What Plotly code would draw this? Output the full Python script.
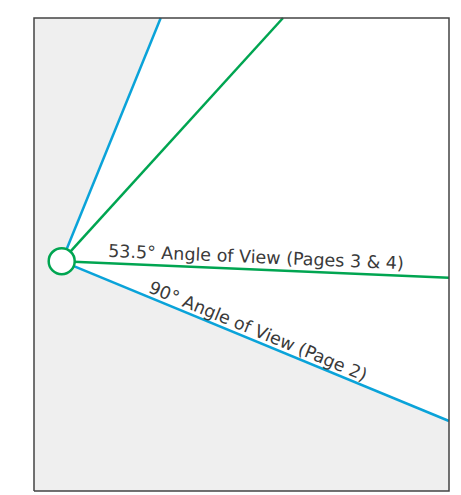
import math
import plotly.graph_objects as go

# Room (drawing units) and camera
room_w = 415
room_h = 473
camera = (27.7, 229.8)

# Ray angles in degrees (measured counter-clockwise from the +x axis)
wide_rays = [67.85, -22.42]      # 90° angle of view (Page 2)
narrow_rays = [47.7, -2.44]      # 53.5° angle of view (Pages 3 & 4)

labels = ["53.5° Angle of View (Pages 3 & 4)", "90° Angle of View (Page 2)"]

BLUE = "#0aa3d9"
GREEN = "#00a551"
GRAY = "#efefef"
TEXT = "#3a3a3a"


def ray_end(angle):
    cx, cy = camera
    dx, dy = math.cos(math.radians(angle)), math.sin(math.radians(angle))
    ts = []
    if dx > 0:
        ts.append((room_w - cx) / dx)
    if dx < 0:
        ts.append(-cx / dx)
    if dy > 0:
        ts.append((room_h - cy) / dy)
    if dy < 0:
        ts.append(-cy / dy)
    t = min(ts)
    return cx + t * dx, cy + t * dy


fig = go.Figure()

# gray region outside the wide field of view
top_end = ray_end(wide_rays[0])
bot_end = ray_end(wide_rays[1])
poly_x = [0, top_end[0], camera[0], bot_end[0], room_w, 0, 0]
poly_y = [room_h, top_end[1], camera[1], bot_end[1], 0, 0, room_h]
fig.add_trace(go.Scatter(x=poly_x, y=poly_y, mode="lines", fill="toself",
                         fillcolor=GRAY, line=dict(width=0), hoverinfo="skip"))

# rays
for rays, color in [(wide_rays, BLUE), (narrow_rays, GREEN)]:
    for a in rays:
        ex, ey = ray_end(a)
        fig.add_trace(go.Scatter(x=[camera[0], ex], y=[camera[1], ey], mode="lines",
                                 line=dict(color=color, width=2.5), hoverinfo="skip"))

# room border
fig.add_trace(go.Scatter(x=[0, room_w, room_w, 0, 0], y=[0, 0, room_h, room_h, 0],
                         mode="lines", line=dict(color="#444444", width=1.5),
                         hoverinfo="skip"))

# camera marker
fig.add_trace(go.Scatter(x=[camera[0]], y=[camera[1]], mode="markers",
                         marker=dict(size=26, color="white",
                                     line=dict(color=GREEN, width=2.5)),
                         hoverinfo="skip"))

# labels
fig.add_annotation(x=222, y=234, text=labels[0], showarrow=False,
                   textangle=-(narrow_rays[1]),
                   font=dict(family="DejaVu Sans", size=17.5, color=TEXT))
fig.add_annotation(x=224, y=160, text=labels[1], showarrow=False,
                   textangle=-(wide_rays[1]),
                   font=dict(family="DejaVu Sans", size=17.5, color=TEXT))

# page body has an 8px margin: size and range compensate for it
fig.update_layout(
    width=453, height=487,
    margin=dict(l=0, r=0, t=0, b=0),
    paper_bgcolor="white", plot_bgcolor="white",
    showlegend=False,
    xaxis=dict(range=[-26, 427], visible=False, fixedrange=True),
    yaxis=dict(range=[-4, 483], visible=False, fixedrange=True),
)

fig.write_html("out.html")
